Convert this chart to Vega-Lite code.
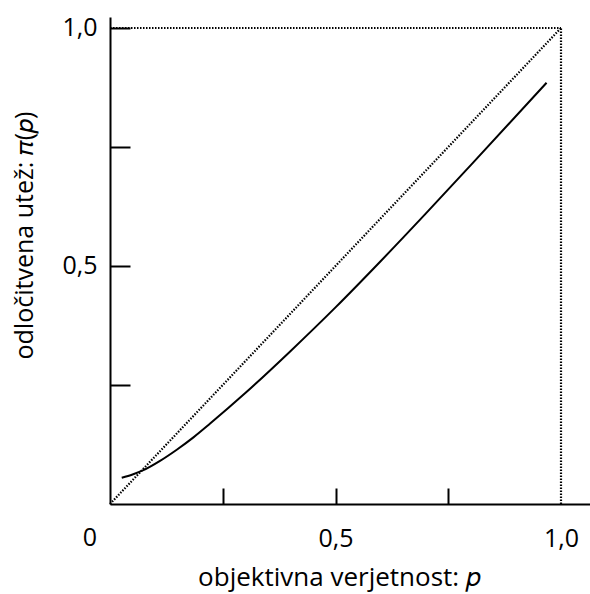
{
  "$schema": "https://vega.github.io/schema/vega-lite/v6.json",
  "width": 480,
  "height": 487,
  "autosize": "none",
  "padding": {"left": 110, "top": 17, "right": 0, "bottom": 90},
  "background": "white",
  "config": {
    "view": {"stroke": null},
    "font": "Open Sans",
    "axis": {
      "domainColor": "black", "domainWidth": 2, "tickColor": "black", "tickWidth": 2,
      "grid": false, "labelFont": "Open Sans", "labelFontSize": 25, "labelColor": "black",
      "titleFont": "Open Sans", "titleFontSize": 25, "titleFontWeight": "normal", "titleColor": "black"
    }
  },
  "datasets": {
    "curve": [
      {"p": 0.026, "w": 0.055}, {"p": 0.05, "w": 0.062}, {"p": 0.074, "w": 0.071},
      {"p": 0.11, "w": 0.090}, {"p": 0.148, "w": 0.114}, {"p": 0.185, "w": 0.140},
      {"p": 0.222, "w": 0.169}, {"p": 0.3, "w": 0.233}, {"p": 0.4, "w": 0.321},
      {"p": 0.5, "w": 0.413}, {"p": 0.6, "w": 0.510}, {"p": 0.7, "w": 0.610},
      {"p": 0.8, "w": 0.712}, {"p": 0.968, "w": 0.885}
    ],
    "guides": [
      {"p": 0, "w": 0, "p2": 1, "w2": 1},
      {"p": 0, "w": 1, "p2": 1, "w2": 1},
      {"p": 1, "w": 0, "p2": 1, "w2": 1}
    ],
    "origin": [{"p": 0, "w": 0, "label": "0"}]
  },
  "layer": [
    {
      "data": {"name": "guides"},
      "mark": {"type": "rule", "color": "black", "strokeWidth": 2.2, "strokeDash": [1.5, 1.5]},
      "encoding": {
        "x": {"field": "p", "type": "quantitative",
          "scale": {"domain": [0, 1.0643], "nice": false, "zero": false},
          "axis": {
            "values": [0.25, 0.5, 0.75, 1],
            "labelExpr": "datum.value == 0.5 ? '0,5' : datum.value == 1 ? '1,0' : ''",
            "tickSize": -16, "labelPadding": 50, "labelBaseline": "middle",
            "tickColor": {"condition": {"test": "datum.value == 1", "value": "transparent"}, "value": "black"},
            "title": "objektivna verjetnost: 𝑝", "titleFontSize": 26,
            "titleX": 229, "titleY": 81, "titleAlign": "center", "titleBaseline": "alphabetic"
          }},
        "y": {"field": "w", "type": "quantitative",
          "scale": {"domain": [0, 1.0231], "nice": false, "zero": false},
          "axis": {
            "values": [0.25, 0.5, 0.75, 1],
            "labelExpr": "datum.value == 0.5 ? '0,5' : datum.value == 1 ? '1,0' : ''",
            "tickSize": -20, "labelPadding": 33,
            "title": "odločitvena utež: 𝜋(𝑝)",
            "titleX": -86, "titleY": 218, "titleAlign": "center", "titleBaseline": "middle", "titleAngle": -90
          }},
        "x2": {"field": "p2"},
        "y2": {"field": "w2"}
      }
    },
    {
      "data": {"name": "curve"},
      "mark": {"type": "line", "color": "black", "strokeWidth": 2, "interpolate": "monotone"},
      "encoding": {
        "x": {"field": "p", "type": "quantitative"},
        "y": {"field": "w", "type": "quantitative"}
      }
    },
    {
      "data": {"name": "origin"},
      "mark": {"type": "text", "font": "Open Sans", "fontSize": 25, "color": "black", "align": "right", "baseline": "middle", "dx": -13, "dy": 34},
      "encoding": {
        "x": {"field": "p", "type": "quantitative"},
        "y": {"field": "w", "type": "quantitative"},
        "text": {"field": "label"}
      }
    }
  ]
}
